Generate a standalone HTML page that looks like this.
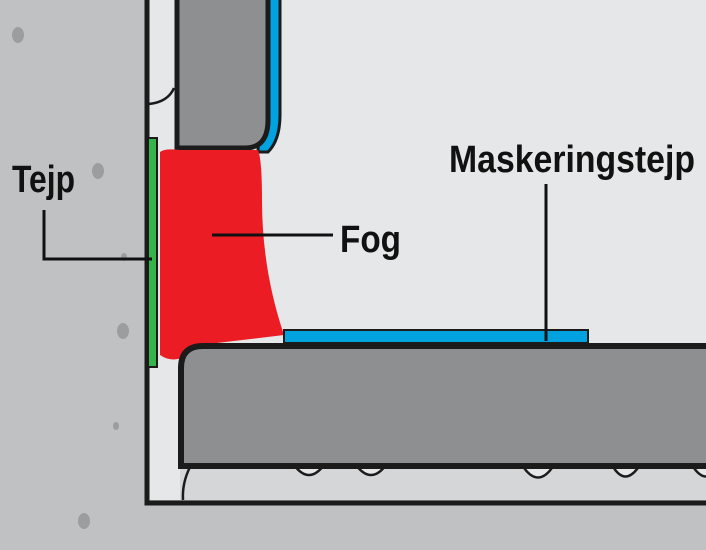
<!DOCTYPE html>
<html><head><meta charset="utf-8"><style>html,body{margin:0;padding:0;background:#c0c1c3}svg{display:block}</style></head>
<body>
<svg width="706" height="550" viewBox="0 0 706 550" xmlns="http://www.w3.org/2000/svg">
<rect width="706" height="550" fill="#c0c1c3"/>
<g fill="#9c9d9f">
<ellipse cx="18" cy="35" rx="6" ry="8"/>
<ellipse cx="98" cy="171" rx="6" ry="8"/>
<ellipse cx="123" cy="331" rx="6" ry="8"/>
<ellipse cx="116" cy="426" rx="3" ry="4"/>
<ellipse cx="84" cy="521" rx="6" ry="8"/>
<ellipse cx="124" cy="257" rx="3" ry="4"/>
</g>
<!-- inner light area -->
<rect x="149" y="0" width="557" height="500" fill="#e6e7e8"/>
<rect x="180" y="465" width="526" height="35" fill="#d5d6d8"/>
<!-- wall lines -->
<path d="M147 0 V503 H706" fill="none" stroke="#1b1b1b" stroke-width="5"/>
<!-- small arc upper left -->
<path d="M149 104 Q168 102 174 88" fill="none" stroke="#1b1b1b" stroke-width="2.5"/>
<!-- under tile arcs -->
<g fill="#e6e7e8" stroke="#1b1b1b" stroke-width="2.5">
<path d="M294 465 Q309 485 324 465"/>
<path d="M356 465 Q371 485 386 465"/>
<path d="M522 465 Q538 490 554 465"/>
<path d="M612 465 Q625 488 640 465"/>
<path d="M692 465 Q706 488 720 465"/>
</g>
<path d="M190 467 Q182 483 183 500" fill="none" stroke="#1b1b1b" stroke-width="2.5"/>
<!-- upper tile blue edge -->
<path d="M262 -5 H280 V115 Q280 140 268 152 H258 Z" fill="#00a3e0" stroke="#1b1b1b" stroke-width="3"/>
<!-- upper tile -->
<path d="M177 -5 H268 V120 Q268 148 245 148 H177 Z" fill="#8d8f90" stroke="#1b1b1b" stroke-width="5"/>
<!-- red fog -->
<path d="M160 152 Q165 148 180 150 H258 Q262 160 262 200 Q262 270 284 335 L200 345 Q185 350 182 358 Q170 362 160 355 Z" fill="#ec1c24"/>
<!-- green tape -->
<rect x="148" y="138" width="9" height="229" fill="#35b449" stroke="#1b1b1b" stroke-width="2"/>
<!-- blue tape bottom -->
<rect x="284" y="330" width="304" height="13" fill="#00a3e0" stroke="#1b1b1b" stroke-width="2"/>
<!-- bottom tile -->
<path d="M181 466 V368 Q181 346 203 346 H712 V466 Z" fill="#8d8f90" stroke="#1b1b1b" stroke-width="6"/>
<!-- leaders -->
<g stroke="#111" stroke-width="3" fill="none">
<path d="M44 210 V259 H152"/>
<path d="M212 235 H333"/>
<path d="M546 184 V341"/>
</g>
<g font-family="Liberation Sans, sans-serif" font-weight="bold" fill="#111" font-size="38">
<text x="12" y="192" textLength="63" lengthAdjust="spacingAndGlyphs">Tejp</text>
<text x="340" y="252" textLength="61" lengthAdjust="spacingAndGlyphs">Fog</text>
<text x="449" y="172" textLength="246" lengthAdjust="spacingAndGlyphs">Maskeringstejp</text>
</g>
</svg>
</body></html>
